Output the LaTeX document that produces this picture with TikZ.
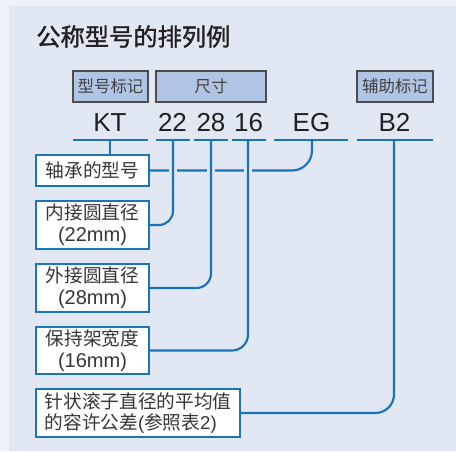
\documentclass[tikz,border=0pt]{standalone}
\usepackage{fontspec}
\setmainfont{Liberation Sans}
\newfontfamily\cjk{Noto Sans CJK SC}
\newfontfamily\cjkt[FakeBold=1.3]{Noto Sans CJK SC}
\definecolor{outerbg}{HTML}{EEF2F8}
\definecolor{panelbg}{HTML}{E1E7F3}
\definecolor{lineblue}{HTML}{1A74BB}
\definecolor{labfill}{HTML}{B0C4E4}
\definecolor{labdraw}{HTML}{4D4D4D}
\definecolor{txt}{HTML}{231F20}
\begin{document}
\begin{tikzpicture}[x=0.75pt,y=-0.75pt,
  titletext/.style={inner sep=0pt,text=txt,font=\cjkt\fontsize{18.2pt}{20pt}\selectfont},
  labbox/.style={draw=labdraw,fill=labfill,line width=0.8pt,inner sep=0pt,minimum height=31*0.75pt,text=txt!85,font=\cjk\fontsize{12.3pt}{14pt}\selectfont},
  code/.style={inner sep=0pt,anchor=base,text=txt,font=\fontsize{19.5pt}{22pt}\selectfont},
  bar/.style={draw=lineblue,line width=1.6pt},
  conn/.style={draw=lineblue,line width=1.6pt},
  gapline/.style={draw=panelbg,line width=6.4pt},
  infobox/.style={draw=lineblue,fill=white,line width=1.1pt,inner sep=0pt,text=txt!90,align=center,font=\fontsize{14pt}{15.75pt}\selectfont},
  lat/.style={}]
\useasboundingbox (0,0) rectangle (456,451);
\fill[outerbg] (0,0) rectangle (456,451);
\fill[panelbg] (9,6) rectangle (456,451);
\node[titletext,anchor=west] (title) at (36,36.5) {公称型号的排列例};
% label boxes
\node[labbox,minimum width=75*0.75pt] (lab1) at (110.5,86.5) {型号标记};
\node[labbox,minimum width=110*0.75pt] (lab2) at (211,86.5) {尺寸};
\node[labbox,minimum width=76*0.75pt] (lab3) at (395,86.5) {辅助标记};
% codes
\node[code] (kt) at (110,131.5) {KT};
\node[code] (c22) at (172.5,131.5) {22};
\node[code] (c28) at (211,131.5) {28};
\node[code] (c16) at (248.5,131.5) {16};
\node[code] (ceg) at (311.5,131.5) {EG};
\node[code] (cb2) at (394.5,131.5) {B2};
% bars
\coordinate (sKT) at (110,140);
\coordinate (s22) at (173,140);
\coordinate (s28) at (211,140);
\coordinate (s16) at (248,140);
\coordinate (sEG) at (312,140);
\coordinate (sB2) at (394,140);
\draw[bar] (73,140) -- (sKT) -- (148,140);
\draw[bar] (156,140) -- (s22) -- (190,140);
\draw[bar] (194,140) -- (s28) -- (228,140);
\draw[bar] (232,140) -- (s16) -- (266,140);
\draw[bar] (274,140) -- (sEG) -- (348,140);
\draw[bar] (357,140) -- (sB2) -- (433,140);
% info boxes
\node[infobox,minimum width=113*0.75pt,minimum height=31*0.75pt] (b1) at (92.5,170.5) {\cjk 轴承的型号};
\node[infobox,minimum width=113*0.75pt,minimum height=48*0.75pt] (b2) at (92.5,225) {{\cjk 内接圆直径}\\[0.5pt]{\fontsize{15pt}{15.75pt}\selectfont (22mm)}};
\node[infobox,minimum width=113*0.75pt,minimum height=48*0.75pt] (b3) at (92.5,288) {{\cjk 外接圆直径}\\[0.5pt]{\fontsize{15pt}{15.75pt}\selectfont (28mm)}};
\node[infobox,minimum width=113*0.75pt,minimum height=47*0.75pt] (b4) at (92.5,350.5) {{\cjk 保持架宽度}\\[0.5pt]{\fontsize{15pt}{15.75pt}\selectfont (16mm)}};
\node[infobox,align=left,minimum width=204*0.75pt,minimum height=48*0.75pt] (b5) at (138,413) {{\cjk 针状滚子直径的平均值}\\[0.5pt]{\cjk 的容许公差}(\cjk 参照表\normalfont 2)};
% connectors
\draw[conn] (sKT) -- (sKT |- b1.north);
\draw[conn,rounded corners=15pt] (sEG) |- (b1.east);
\draw[gapline] (s22 |- b1.east) ++(0,-6) -- ++(0,12);
\draw[gapline] (s28 |- b1.east) ++(0,-6) -- ++(0,12);
\draw[gapline] (s16 |- b1.east) ++(0,-6) -- ++(0,12);
\draw[conn,rounded corners=10.5pt] (s22) |- (b2.east);
\draw[conn,rounded corners=11pt] (s28) |- (b3.east);
\draw[conn,rounded corners=12pt] (s16) |- (b4.east);
\draw[conn,rounded corners=14pt] (sB2) |- (b5.east);
\end{tikzpicture}
\end{document}
